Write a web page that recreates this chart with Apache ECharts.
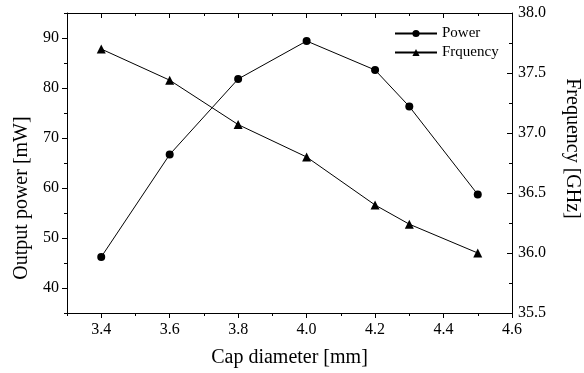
<!DOCTYPE html>
<html>
<head>
<meta charset="utf-8">
<script src="https://cdn.jsdelivr.net/npm/echarts@6/dist/echarts.min.js"></script>
<style>
  html, body { margin: 0; padding: 0; background: #fff; }
  #chart { width: 584px; height: 373px; }
</style>
</head>
<body>
<div id="chart"></div>
<script>
// values
var capDiameter = [3.4, 3.6, 3.8, 4.0, 4.2, 4.3, 4.5]
var power = [46.2, 66.7, 81.8, 89.4, 83.6, 76.3, 58.7]
var frequency = [37.70, 37.44, 37.07, 36.80, 36.40, 36.24, 36.00]

// axis ranges / tick steps
var xRange = [3.3, 4.6], xMajor = [3.4, 4.6, 0.2], xMinorStep = 0.1
var powerRange = [35, 95], powerMajor = [40, 90, 10], powerMinorStep = 5
var freqRange = [35.5, 38.0], freqMajorStep = 0.5, freqMinorStep = 0.25

var serif = "'Liberation Serif', 'Times New Roman', serif"
var black = { color: '#000', width: 1 }

// plot box in pixels
var L = 67, R = 72, T = 13, B = 60
var W = 584 - L - R, H = 373 - T - B

function pairs (ys) {
  return capDiameter.map(function (x, i) { return [x, ys[i]] })
}

function labelStyle (fmt, margin) {
  return { show: true, formatter: fmt, fontFamily: serif, fontSize: 16, color: '#000', margin: margin }
}

function axis (o) {
  return Object.assign({
    type: 'value',
    splitLine: { show: false },
    axisLine: { show: false, onZero: false, lineStyle: black },
    axisTick: { show: true, inside: false, length: 3, lineStyle: black },
    axisLabel: { show: false }
  }, o)
}
function hidden (o) {
  return Object.assign({ type: 'value', show: false, min: 0, max: 1 }, o)
}

var fmt1 = function (v) { return v.toFixed(1) }
var fmt0 = function (v) { return String(Math.round(v)) }
var nameStyle = { fontFamily: serif, fontSize: 20, color: '#000' }

// major ticks don't start at the axis min, so they get their own grids
var xPx = W / (xRange[1] - xRange[0])
var pPx = H / (powerRange[1] - powerRange[0])

var option = {
  animation: false,
  backgroundColor: '#fff',
  grid: [
    { left: L, right: R, top: T, bottom: B, outerBoundsMode: 'none' },
    { left: L + (xMajor[0] - xRange[0]) * xPx, right: R, top: T, bottom: B, outerBoundsMode: 'none' },
    { left: L, right: R, top: T + (powerRange[1] - powerMajor[1]) * pPx, bottom: B + (powerMajor[0] - powerRange[0]) * pPx, outerBoundsMode: 'none' }
  ],
  legend: {
    orient: 'vertical',
    left: 389,
    top: 21,
    itemWidth: 42,
    itemHeight: 9,
    itemGap: 4,
    textStyle: { fontFamily: serif, fontSize: 15, color: '#000' },
    data: ['Power', 'Frquency']
  },
  xAxis: [
    axis({
      gridIndex: 0, position: 'bottom', min: xRange[0], max: xRange[1], interval: xMinorStep,
      axisLine: { show: true, onZero: false, lineStyle: black },
      name: 'Cap diameter [mm]', nameLocation: 'middle', nameGap: 35, nameTextStyle: nameStyle
    }),
    axis({
      gridIndex: 0, position: 'top', min: xRange[0], max: xRange[1], interval: xMinorStep,
      axisLine: { show: true, onZero: false, lineStyle: black },
      axisTick: { show: true, inside: true, length: 3, lineStyle: black }
    }),
    axis({
      gridIndex: 1, position: 'bottom', min: xMajor[0], max: xMajor[1], interval: xMajor[2],
      axisTick: { show: true, inside: false, length: 5, lineStyle: black },
      axisLabel: labelStyle(fmt1, 9)
    }),
    axis({
      gridIndex: 1, position: 'top', min: xMajor[0], max: xMajor[1], interval: xMajor[2],
      axisTick: { show: true, inside: true, length: 5, lineStyle: black }
    }),
    hidden({ gridIndex: 2 })
  ],
  yAxis: [
    axis({
      gridIndex: 0, position: 'left', min: powerRange[0], max: powerRange[1], interval: powerMinorStep,
      axisLine: { show: true, onZero: false, lineStyle: black },
      name: 'Output power [mW]', nameLocation: 'middle', nameGap: 35,
      nameTextStyle: Object.assign({ padding: [0, 70, 0, 0] }, nameStyle)
    }),
    axis({
      gridIndex: 0, position: 'right', min: freqRange[0], max: freqRange[1], interval: freqMajorStep,
      axisLine: { show: true, onZero: false, lineStyle: black },
      axisTick: { show: true, inside: true, length: 5, lineStyle: black },
      axisLabel: labelStyle(fmt1, 6),
      name: 'Frequency [GHz]', nameLocation: 'middle', nameRotate: -90, nameGap: 50,
      nameTextStyle: Object.assign({ padding: [0, 29, 0, 0] }, nameStyle)
    }),
    axis({
      gridIndex: 0, position: 'right', min: freqRange[0], max: freqRange[1], interval: freqMinorStep,
      axisTick: { show: true, inside: true, length: 3, lineStyle: black }
    }),
    hidden({ gridIndex: 1 }),
    axis({
      gridIndex: 2, position: 'left', min: powerMajor[0], max: powerMajor[1], interval: powerMajor[2],
      axisTick: { show: true, inside: false, length: 5, lineStyle: black },
      axisLabel: labelStyle(fmt0, 8)
    })
  ],
  series: [
    {
      name: 'Power',
      type: 'line',
      xAxisIndex: 0,
      yAxisIndex: 0,
      data: pairs(power),
      symbol: 'circle',
      symbolSize: 8,
      lineStyle: black,
      itemStyle: { color: '#000' }
    },
    {
      name: 'Frquency',
      type: 'line',
      xAxisIndex: 0,
      yAxisIndex: 1,
      data: pairs(frequency),
      symbol: 'triangle',
      symbolSize: 9,
      lineStyle: black,
      itemStyle: { color: '#000' }
    }
  ]
}

var myChart = echarts.init(document.getElementById('chart'))
myChart.setOption(option)
</script>
</body>
</html>
